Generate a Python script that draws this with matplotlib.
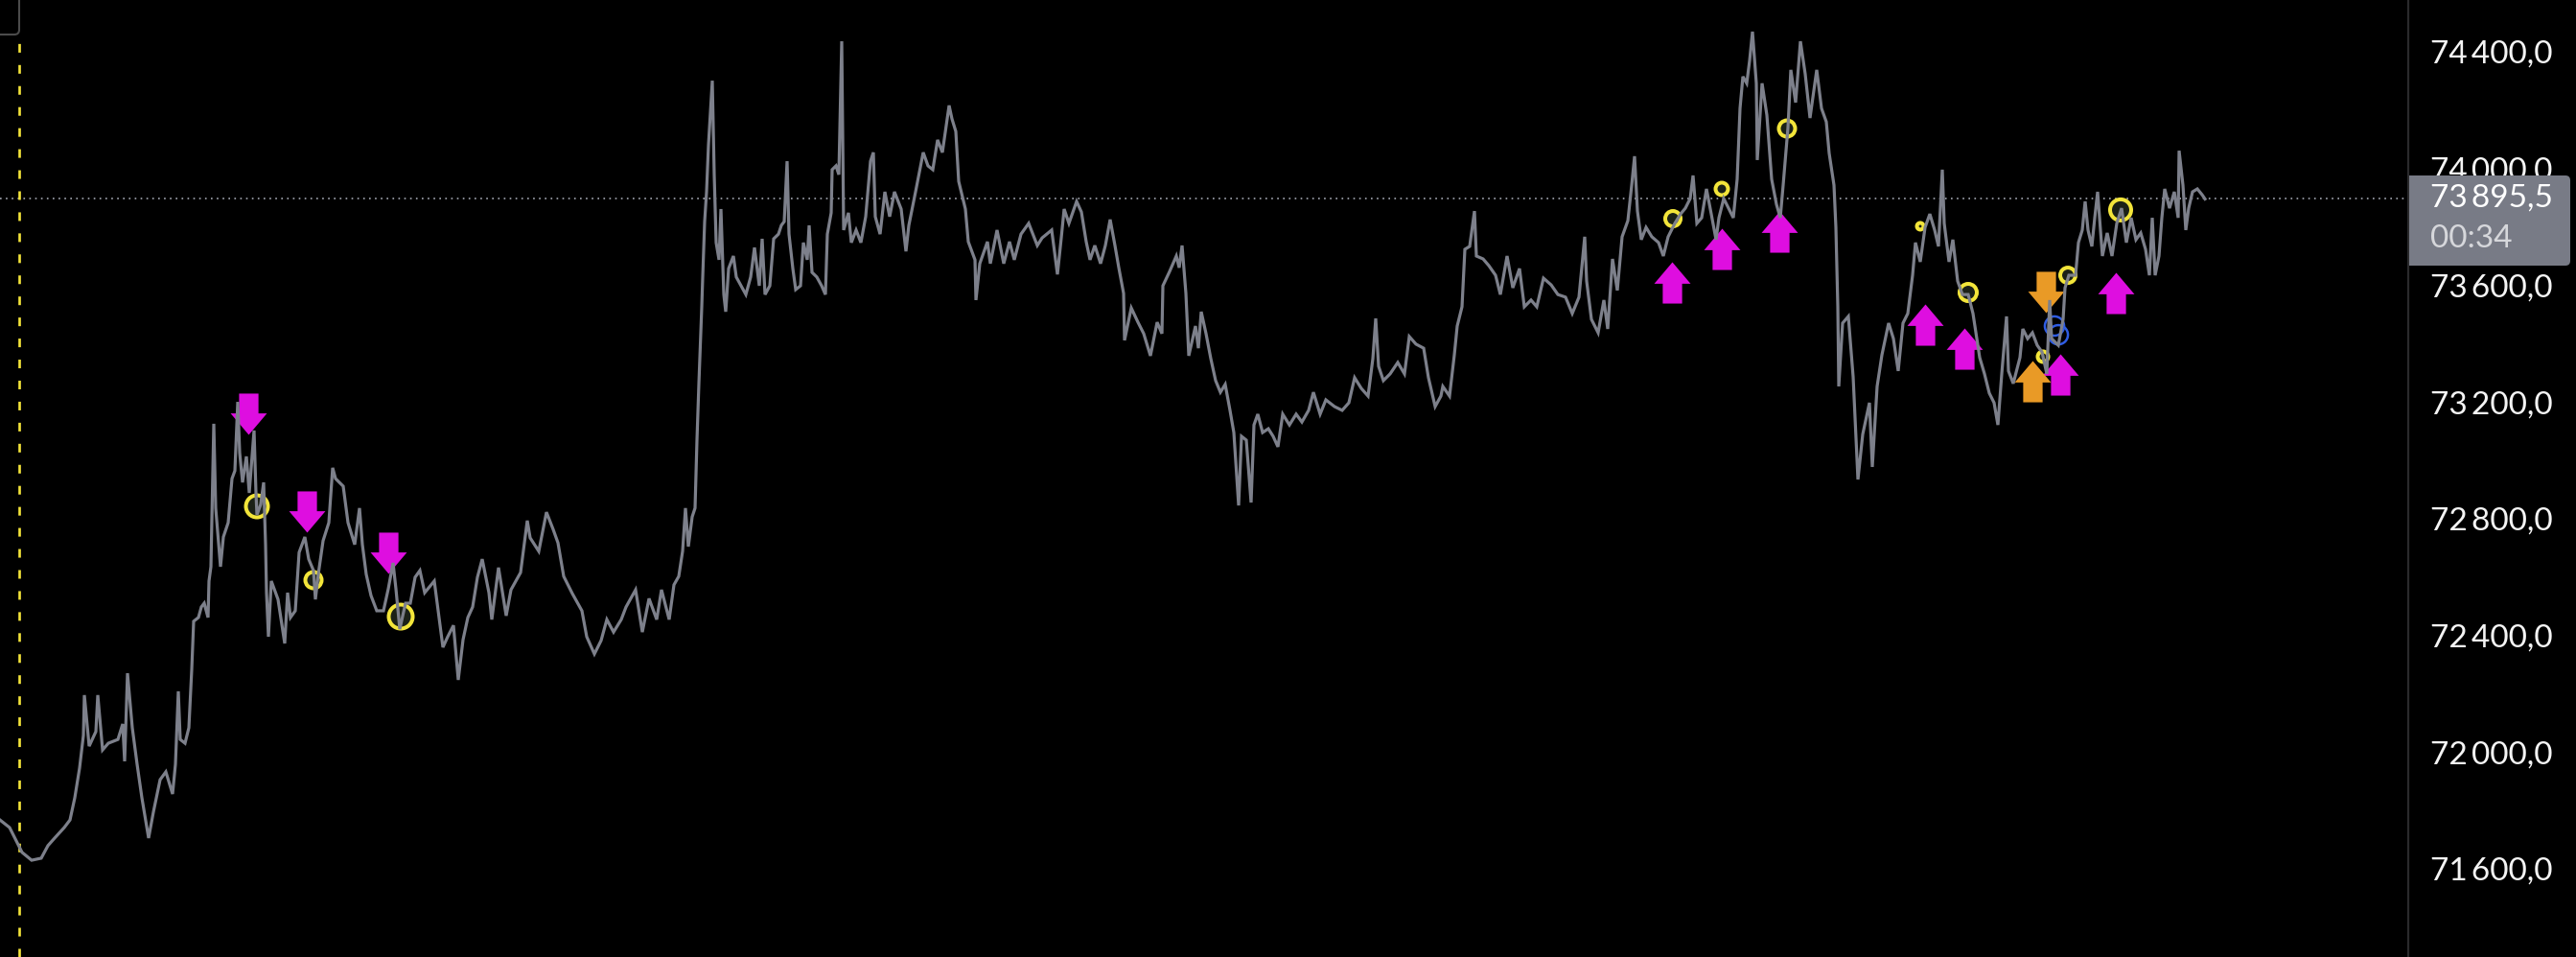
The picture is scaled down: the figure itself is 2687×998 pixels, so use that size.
import matplotlib
matplotlib.use('Agg')
import matplotlib.pyplot as plt
from matplotlib.path import Path
from matplotlib.patches import FancyBboxPatch, Rectangle
from matplotlib.transforms import IdentityTransform
from matplotlib.ticker import FuncFormatter

plt.rcParams['font.family'] = ['Lato', 'DejaVu Sans']
plt.rcParams['lines.scale_dashes'] = False

# price trace: bar index -> price
t = [0, 10, 23, 33, 43, 50, 57, 67, 73, 78, 83, 87, 88, 93, 100, 102, 107, 113, 123, 128,
     130, 133, 138, 143, 148, 155, 160, 167, 173, 180, 183, 186, 188, 193, 197, 200, 202, 207, 210, 213,
     217, 218, 220, 223, 225, 230, 233, 238, 242, 245, 248, 250, 253, 257, 260, 265, 267, 268, 272, 275,
     277, 278, 280, 283, 290, 297, 300, 303, 308, 312, 318, 322, 327, 329, 332, 337, 343, 347, 350, 358,
     363, 370, 375, 378, 382, 387, 393, 400, 405, 410, 413, 417, 423, 428, 433, 438, 443, 453, 457, 462,
     467, 473, 478, 483, 488, 493, 498, 503, 510, 513, 520, 528, 533, 543, 550, 553, 562, 570, 577, 582,
     588, 597, 607, 612, 620, 627, 633, 640, 648, 653, 663, 670, 677, 685, 690, 698, 703, 708, 712, 715,
     718, 722, 725, 727, 729, 732, 733, 735, 737, 739, 743, 745, 747, 750, 752, 755, 757, 760, 765, 768,
     773, 778, 783, 787, 792, 795, 798, 803, 807, 812, 815, 818, 821, 823, 827, 830, 835, 838, 842, 844,
     847, 852, 857, 861, 863, 867, 868, 872, 875, 878, 880, 885, 888, 893, 898, 903, 908, 911, 913, 918,
     923, 928, 933, 940, 945, 948, 955, 963, 968, 973, 978, 983, 990, 993, 997, 1000, 1007, 1010, 1017, 1018,
     1022, 1030, 1033, 1040, 1047, 1053, 1058, 1065, 1073, 1082, 1087, 1097, 1103, 1107, 1110, 1115, 1123, 1128, 1133, 1137,
     1142, 1148, 1153, 1158, 1163, 1167, 1172, 1173, 1180, 1187, 1193, 1200, 1207, 1212, 1213, 1220, 1227, 1230, 1233, 1237,
     1240, 1247, 1250, 1253, 1258, 1263, 1268, 1273, 1278, 1283, 1287, 1292, 1295, 1300, 1305, 1308, 1312, 1317, 1323, 1328,
     1333, 1338, 1345, 1352, 1358, 1365, 1370, 1377, 1383, 1392, 1400, 1407, 1413, 1420, 1427, 1432, 1435, 1438, 1443, 1450,
     1458, 1465, 1470, 1477, 1485, 1490, 1497, 1503, 1505, 1512, 1517, 1520, 1525, 1528, 1533, 1538, 1540, 1547, 1553, 1560,
     1565, 1572, 1578, 1585, 1590, 1597, 1603, 1610, 1618, 1625, 1633, 1640, 1647, 1653, 1655, 1660, 1667, 1673, 1677, 1682,
     1687, 1692, 1698, 1702, 1705, 1708, 1712, 1717, 1723, 1730, 1735, 1740, 1747, 1753, 1758, 1763, 1766, 1770, 1775, 1780,
     1785, 1790, 1793, 1798, 1803, 1808, 1812, 1815, 1818, 1822, 1825, 1828, 1832, 1833, 1838, 1843, 1848, 1853, 1857, 1860,
     1865, 1868, 1873, 1878, 1883, 1888, 1895, 1900, 1905, 1908, 1913, 1915, 1917, 1918, 1922, 1928, 1933, 1938, 1943, 1950,
     1953, 1958, 1963, 1970, 1975, 1980, 1985, 1990, 1995, 1998, 2003, 2008, 2013, 2018, 2022, 2026, 2028, 2033, 2037, 2042,
     2047, 2053, 2058, 2062, 2065, 2070, 2075, 2080, 2084, 2088, 2093, 2095, 2100, 2107, 2110, 2115, 2120, 2125, 2130, 2135,
     2138, 2140, 2147, 2152, 2154, 2158, 2165, 2168, 2172, 2175, 2178, 2182, 2185, 2188, 2193, 2198, 2203, 2208, 2213, 2218,
     2223, 2228, 2233, 2238, 2242, 2245, 2248, 2252, 2255, 2258, 2263, 2268, 2272, 2273, 2277, 2280, 2283, 2287, 2292, 2297,
     2300]
price = [71767, 71741, 71656, 71629, 71636, 71679, 71705, 71741, 71767, 71843, 71945, 72057, 72195, 72020, 72070, 72195, 72007, 72030, 72043, 72096,
         71968, 72270, 72083, 71958, 71843, 71705, 71794, 71905, 71932, 71856, 71958, 72208, 72043, 72030, 72083, 72283, 72448, 72461, 72497, 72510,
         72461, 72586, 72635, 73125, 72836, 72635, 72737, 72786, 72937, 72964, 73200, 73026, 72924, 73013, 72888, 73102, 72888, 72813, 72849, 72924,
         72711, 72546, 72395, 72586, 72523, 72372, 72546, 72461, 72484, 72684, 72737, 72661, 72622, 72523, 72609, 72724, 72786, 72974, 72937, 72911,
         72786, 72711, 72836, 72711, 72609, 72536, 72484, 72484, 72559, 72648, 72559, 72421, 72510, 72510, 72599, 72622, 72546, 72586, 72484, 72359,
         72395, 72434, 72247, 72385, 72461, 72497, 72599, 72661, 72546, 72454, 72632, 72467, 72556, 72615, 72793, 72734, 72688, 72822, 72763, 72717,
         72602, 72543, 72484, 72395, 72336, 72382, 72454, 72411, 72454, 72497, 72556, 72411, 72526, 72454, 72556, 72454, 72573, 72602, 72688, 72836,
         72704, 72806, 72836, 73069, 73263, 73526, 73628, 73818, 73920, 74081, 74301, 73979, 73746, 73687, 73861, 73568, 73509, 73657, 73700, 73628,
         73598, 73568, 73628, 73729, 73598, 73759, 73568, 73598, 73759, 73775, 73805, 73818, 74025, 73775, 73657, 73585, 73598, 73746, 73687, 73805,
         73644, 73628, 73598, 73568, 73775, 73848, 73996, 74009, 73979, 74436, 73789, 73848, 73746, 73789, 73746, 73835, 74025, 74055, 73835, 73775,
         73920, 73835, 73920, 73861, 73716, 73805, 73920, 74055, 74009, 73996, 74098, 74055, 74216, 74170, 74127, 73956, 73861, 73749, 73687, 73549,
         73674, 73749, 73674, 73789, 73674, 73749, 73687, 73775, 73812, 73736, 73762, 73789, 73637, 73762, 73861, 73812, 73887, 73851, 73749, 73687,
         73736, 73674, 73736, 73825, 73736, 73660, 73572, 73411, 73522, 73473, 73434, 73358, 73473, 73434, 73598, 73647, 73700, 73660, 73736, 73572,
         73358, 73460, 73384, 73509, 73434, 73348, 73273, 73233, 73260, 73171, 73095, 72845, 73082, 73069, 72855, 73121, 73158, 73095, 73108, 73082,
         73046, 73158, 73121, 73158, 73131, 73171, 73233, 73158, 73207, 73184, 73171, 73197, 73283, 73246, 73220, 73348, 73486, 73322, 73273, 73296,
         73335, 73296, 73424, 73398, 73384, 73283, 73184, 73220, 73253, 73220, 73361, 73460, 73526, 73723, 73733, 73854, 73700, 73690, 73667, 73634,
         73568, 73700, 73591, 73657, 73526, 73549, 73526, 73624, 73601, 73568, 73559, 73503, 73559, 73766, 73614, 73483, 73437, 73549, 73450, 73690,
         73582, 73766, 73821, 73943, 74042, 73854, 73756, 73798, 73766, 73746, 73700, 73766, 73812, 73844, 73864, 73897, 73976, 73812, 73831, 73930,
         73844, 73756, 73831, 73897, 73864, 73831, 73963, 74206, 74315, 74292, 74370, 74469, 74292, 74029, 74292, 74183, 73963, 73877, 73831, 73943,
         74140, 74338, 74226, 74436, 74324, 74173, 74338, 74206, 74160, 74052, 73943, 73798, 73526, 73253, 73470, 73493, 73286, 72934, 73089, 73197,
         72977, 73253, 73361, 73470, 73417, 73306, 73470, 73503, 73634, 73746, 73680, 73798, 73844, 73789, 73733, 73996, 73812, 73680, 73756, 73614,
         73568, 73568, 73503, 73417, 73352, 73296, 73230, 73197, 73121, 73296, 73493, 73306, 73263, 73352, 73450, 73417, 73437, 73394, 73371, 73296,
         73549, 73417, 73394, 73483, 73591, 73634, 73634, 73746, 73789, 73887, 73789, 73733, 73831, 73920, 73700, 73779, 73700, 73812, 73864, 73746,
         73831, 73756, 73779, 73723, 73634, 73831, 73634, 73700, 73831, 73930, 73864, 73920, 73831, 74061, 73943, 73789, 73864, 73920, 73930, 73910,
         73895.5]

last_price = 73895.5
timer = '00:34'
y_ticks = [71600, 72000, 72400, 72800, 73200, 73600, 74000, 74400]

# signal arrows: bar index and the price the tip points at
sell_x = [259, 320, 405]
sell_p = [73089, 72753, 72612]
buy_x = [1744, 1796, 1856, 2008, 2049, 2149, 2207]
buy_p = [73680, 73795, 73854, 73536, 73453, 73365, 73644]
alt_sell_x = [2134]
alt_sell_p = [73506]
alt_buy_x = [2120]
alt_buy_p = [73342]

# yellow rings (centre price) and blue rings
ring_x = [268, 327, 418, 1745, 1796, 1864, 2003, 2053, 2157, 2131, 2212]
ring_p = [72842, 72589, 72464, 73828, 73930, 74137, 73802, 73575, 73634, 73355, 73858]
ring_r = [13.5, 10.5, 14.5, 10, 8.5, 10.5, 5.5, 11, 10, 7.5, 13]
blue_x = [2143, 2147]
blue_p = [73460, 73430]

W, H = 2687, 998
DPI = 100
AX_W = 2512

fig = plt.figure(figsize=(W / DPI, H / DPI), dpi=DPI, facecolor='black')
ax = fig.add_axes([0, 0, AX_W / W, 1])
ax.set_facecolor('black')
ax.set_xlim(0, AX_W)
ax.set_ylim(71297.3, 74577.5)
for s in ['top', 'left', 'bottom']:
    ax.spines[s].set_visible(False)
ax.spines['right'].set_color('#2a2a2c')
ax.spines['right'].set_linewidth(1.6)
ax.set_xticks([])
ax.yaxis.tick_right()
ax.set_yticks(y_ticks)
ax.yaxis.set_major_formatter(FuncFormatter(
    lambda v, pos: f"{int(v) // 1000}\u2009{int(v) % 1000:03d},0"))
ax.tick_params(axis='y', length=0, pad=16.5, labelsize=24, labelcolor='#f4f4f4')


def arrow_path(down):
    hw, bw, hh = 0.44, 0.235, 0.52
    v = [(0, 0), (hw, hh), (bw, hh), (bw, 1), (-bw, 1), (-bw, hh), (-hw, hh), (0, 0)]
    if not down:
        v = [(x, -y) for x, y in v]
    return Path(v, closed=True)


down_m = arrow_path(True)
up_m = arrow_path(False)
msz = 62

ax.plot(sell_x, sell_p, ls='none', marker=down_m, markersize=msz, mew=0, color='#de0ee0', zorder=3)
ax.plot(buy_x, buy_p, ls='none', marker=up_m, markersize=msz, mew=0, color='#de0ee0', zorder=3)
ax.plot(alt_sell_x, alt_sell_p, ls='none', marker=down_m, markersize=msz, mew=0, color='#e99a26', zorder=3)
ax.plot(alt_buy_x, alt_buy_p, ls='none', marker=up_m, markersize=msz, mew=0, color='#e99a26', zorder=3)

ring_s = [((2 * r - 4) * 0.72) ** 2 for r in ring_r]
ax.scatter(ring_x, ring_p, s=ring_s, facecolors='#1b2117', edgecolors='#f3e53a',
           linewidths=4 * 0.72, zorder=4)
ax.scatter(blue_x, blue_p, s=((2 * 11.3 - 2.5) * 0.72) ** 2, facecolors='none',
           edgecolors='#2f5ce2', linewidths=2.5 * 0.72, zorder=4)

ax.plot(t, price, color='#7d808b', lw=2.3, solid_joinstyle='miter', zorder=6)

ax.axhline(last_price, color='#8b8e98', lw=1.4, ls=(0, (1.2, 3.2)), zorder=2)
ax.axvline(20, ymin=0, ymax=1 - 40 / H, color='#f5e63a', lw=1.9, ls=(0, (6.5, 9.3)), zorder=2)

# cut-off label box at the top-left corner
fig.add_artist(FancyBboxPatch((-30, H - 36), 50, 60, boxstyle='round,pad=0,rounding_size=5',
                              transform=IdentityTransform(), facecolor='black',
                              edgecolor='#4b4b4b', lw=1.5))

# current price badge
fig.canvas.draw()
yp = ax.transData.transform((0, last_price))[1]
bx, bw_, bh = 2513, 168, 94
by = yp - 69.5
fig.add_artist(FancyBboxPatch((bx, by), bw_, bh, boxstyle='round,pad=0,rounding_size=5',
                              transform=IdentityTransform(), facecolor='#787b86', lw=0))
fig.add_artist(Rectangle((bx, by), 20, bh, transform=IdentityTransform(),
                         facecolor='#787b86', lw=0))
fig.text(2535 / W, (yp + 1) / H, "73\u2009895,5", color='white', fontsize=24,
         va='center', ha='left', zorder=5)
fig.text(2535 / W, (yp - 41.5) / H, timer, color='#d6d7db', fontsize=24,
         va='center', ha='left', zorder=5)

fig.savefig('out.png', dpi=DPI, facecolor='black')
